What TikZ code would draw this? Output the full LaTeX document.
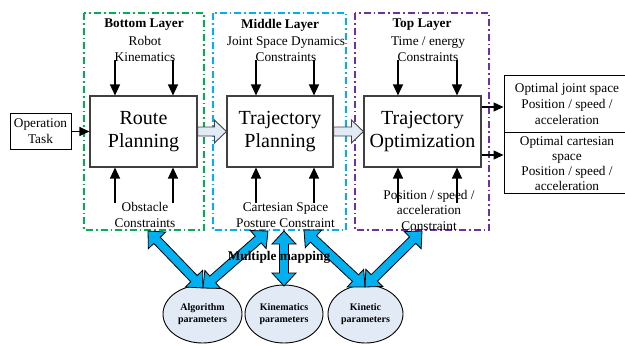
\documentclass[tikz,border=0pt]{standalone}
\usepackage{fontspec}
\setmainfont{Liberation Serif}
\usetikzlibrary{arrows.meta,calc,shapes.geometric}

\definecolor{layergreen}{HTML}{00B050}
\definecolor{layerblue}{HTML}{00B0F0}
\definecolor{layerpurple}{HTML}{7030A0}
\definecolor{mapblue}{HTML}{00B0F0}
\definecolor{paleblue}{HTML}{E2EAF5}
\definecolor{boxgray}{HTML}{404040}

% double-headed block arrow between two points
\newcommand\maparrow[2]{%
  \draw[mapstyle] (#1)
    -- ($(#1)!13pt!(#2)!12pt!90:(#2)$)
    -- ($(#1)!13pt!(#2)!4.5pt!90:(#2)$)
    -- ($(#2)!13pt!(#1)!4.5pt!-90:(#1)$)
    -- ($(#2)!13pt!(#1)!12pt!-90:(#1)$)
    -- (#2)
    -- ($(#2)!13pt!(#1)!12pt!90:(#1)$)
    -- ($(#2)!13pt!(#1)!4.5pt!90:(#1)$)
    -- ($(#1)!13pt!(#2)!4.5pt!-90:(#2)$)
    -- ($(#1)!13pt!(#2)!12pt!-90:(#2)$)
    -- cycle;}

\tikzset{
  layerbox/.style={line width=1.3pt, dash pattern=on 7pt off 3pt on 1.6pt off 3pt},
  stagebox/.style={draw=boxgray, line width=1.1pt, fill=white, inner sep=0pt,
    align=center, font=\fontsize{20}{23}\selectfont},
  smalltext/.style={align=center, inner sep=0pt, font=\fontsize{13.3}{15.5}\selectfont},
  titletext/.style={align=center, inner sep=0pt, font=\bfseries\fontsize{13.3}{15.5}\selectfont},
  outbox/.style={draw=black, line width=0.9pt, inner sep=0pt},
  feed/.style={line width=1.3pt, -{Triangle[length=11pt,width=10pt]}},
  outarrow/.style={line width=1.1pt, -{Triangle[length=10pt,width=9pt]}},
  blockarrow/.style={draw=boxgray, line width=0.9pt, fill=paleblue},
  mapstyle/.style={draw=black, line width=0.8pt, fill=mapblue, line join=miter},
  paramnode/.style={ellipse, draw=black, line width=0.9pt, fill=paleblue, inner sep=0pt,
    align=center, font=\bfseries\fontsize{10}{12.5}\selectfont}
}

\begin{document}
\begin{tikzpicture}[x=1pt,y=-1pt]
\useasboundingbox (0,0) rectangle (625,346);
\clip (0,0) rectangle (625,346);

% layer frames
\draw[layerbox, layergreen] (84,13) rectangle (204,230);
\draw[layerbox, layerblue] (213,13) rectangle (346,230);
\draw[layerbox, layerpurple] (355,13) rectangle (489,230);

% planning stages
\node[stagebox, minimum width=107pt, minimum height=71pt] (route) at (143.5,131.5) {Route\\Planning};
\node[stagebox, minimum width=106pt, minimum height=71pt] (trajp) at (280,131.5) {Trajectory\\Planning};
\node[stagebox, minimum width=117pt, minimum height=71pt] (trajo) at (422.5,131.5) {Trajectory\\Optimization};

% task input
\node[outbox, draw=black, minimum width=61pt, minimum height=36pt, smalltext] (task) at (40.5,131) {Operation\\Task};
\draw[outarrow] (task.east |- route.west) -- (route.west);

% layer titles and constraints
\node[titletext] (tbottom) at (144,25) {Bottom Layer};
\node[titletext] (tmiddle) at (280,25) {Middle Layer};
\node[titletext] (ttop) at (422,25) {Top Layer};

\node[smalltext] (kin) at (145,49) {Robot\\Kinematics};
\node[smalltext] (jsd) at (286,49) {Joint Space Dynamics\\Constraints};
\node[smalltext] (time) at (428,49) {Time / energy\\Constraints};

\node[smalltext] (obst) at (145,215) {Obstacle\\Constraints};
\node[smalltext] (cart) at (285.5,215) {Cartesian Space\\Posture Constraint};
\node[smalltext] (pva) at (429,210) {Position / speed /\\acceleration\\Constraint};

% constraint feeds into the stages
\foreach \n/\x/\b in {a/115/route, b/173/route, c/256/trajp, d/314/trajp, e/398/trajo, f/457/trajo}{
  \coordinate (top\n) at (\x,60);
  \coordinate (bot\n) at (\x,203);
  \draw[feed] (top\n) -- (top\n |- \b.north);
  \draw[feed] (bot\n) -- (bot\n |- \b.south);
}

% stage-to-stage block arrows
\draw[blockarrow] ($(route.east)+(0,-4.5)$) -- ($(trajp.west)+(-12,-4.5)$) -- ($(trajp.west)+(-12,-11.5)$)
  -- (trajp.west) -- ($(trajp.west)+(-12,11.5)$) -- ($(trajp.west)+(-12,4.5)$) -- ($(route.east)+(0,4.5)$) -- cycle;
\draw[blockarrow] ($(trajp.east)+(0,-4.5)$) -- ($(trajo.west)+(-12,-4.5)$) -- ($(trajo.west)+(-12,-11.5)$)
  -- (trajo.west) -- ($(trajo.west)+(-12,11.5)$) -- ($(trajo.west)+(-12,4.5)$) -- ($(trajp.east)+(0,4.5)$) -- cycle;

% optimal outputs
\node[outbox, minimum width=126pt, minimum height=57pt] (outj) at (567,103.5) {};
\node[outbox, minimum width=126pt, minimum height=61pt] (outc) at (567,162.5) {};
\node[smalltext, font=\fontsize{13.3}{16}\selectfont] (outjt) at (567,104) {Optimal joint space\\Position / speed /\\acceleration};
\node[smalltext, font=\fontsize{13.3}{15}\selectfont] (outct) at (567,163.5) {Optimal cartesian\\space\\Position / speed /\\acceleration};
\coordinate (oj) at (0,107);
\coordinate (oc) at (0,155);
\draw[outarrow] (trajo.east |- oj) -- (outj.west |- oj);
\draw[outarrow] (trajo.east |- oc) -- (outc.west |- oc);

% parameter sets
\node[paramnode, minimum width=79pt, minimum height=58pt] (alg) at (202.5,314) {Algorithm\\parameters};
\node[paramnode, minimum width=78pt, minimum height=58pt] (kpar) at (284,314) {Kinematics\\parameters};
\node[paramnode, minimum width=75pt, minimum height=58pt] (kinet) at (365.5,314) {Kinetic\\parameters};

% mappings between constraints and parameters
\coordinate (m1) at (148,231);
\coordinate (m2) at (268,231);
\coordinate (m3) at (284,231);
\coordinate (m4) at (304,230);
\coordinate (m5) at (422,231);
\coordinate (algtop) at (203,288);
\coordinate (kpartop) at (284,286);
\coordinate (kinettop) at (365,287);
\maparrow{m1}{algtop}
\maparrow{m2}{algtop}
\maparrow{m3}{kpartop}
\maparrow{m4}{kinettop}
\maparrow{m5}{kinettop}

\node[titletext] (mm) at (279,257) {Multiple mapping};
\end{tikzpicture}
\end{document}
